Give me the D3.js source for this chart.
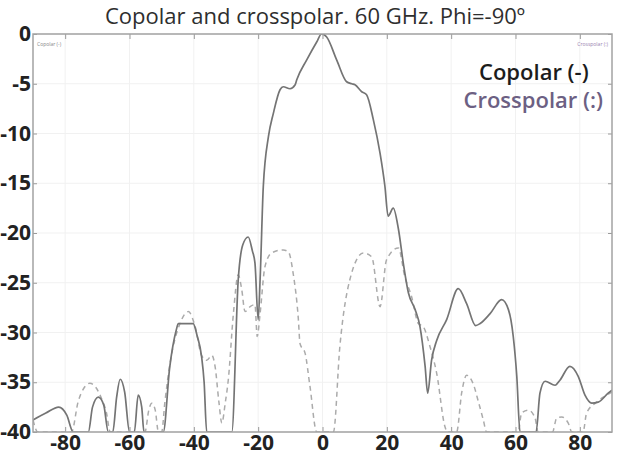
<!DOCTYPE html>
<html>
<head>
<meta charset="utf-8">
<script src="https://cdn.jsdelivr.net/npm/d3@7/dist/d3.min.js"></script>
<style>
  body { margin: 0; background: #fff; }
  text { font-family: "Open Sans", sans-serif; }
</style>
</head>
<body>
<svg id="chart" width="621" height="457"></svg>
<script>
// Copolar / crosspolar radiation pattern, 60 GHz, Phi = -90º

const titleText = 'Copolar and crosspolar. 60 GHz. Phi=-90º';
const xTicks = [-80, -60, -40, -20, 0, 20, 40, 60, 80];
const yTicks = [0, -5, -10, -15, -20, -25, -30, -35, -40];
const legendLabels = ['Copolar (-)', 'Crosspolar (:)'];

// Copolar (solid)
const copolarAngle = [
    -90, -86, -82, -79.5, -77.5,
    -72.8, -71.5, -69.7, -68, -66.6,
    -65.2, -64, -62.9, -61.5, -60,
    -58.5, -57.3, -56.2, -55.5,
    -49.5, -47.5, -45.5, -44.8, -40.2, -39, -37.6, -36.8, -36,
    -28.2, -26.2, -24.8, -23.1, -21.8, -21, -20, -19.4, -18.4, -16.8, -15.3, -13.2,
    -12.2, -10.1, -8.5, -8, -4.9, -1.8, -0.3, 1.3, 4.4, 7.5, 9.1, 10.1, 12.2, 13.7,
    15.8, 17.9, 19.4, 20.4, 22, 23.6, 25.1, 26.7, 28.8, 30.3, 31.9, 32.7, 33.9, 35.5,
    38.6, 42.2, 44.8, 47.6, 49, 52.1, 55.7, 57.8, 59.3, 60.4, 61.4,
    66.4, 67.6, 69.2, 72.3, 73.8, 76.9, 79.5, 81.6, 83.7, 85.7, 88.8, 90
];
const copolarDb = [
    -38.8, -38.1, -37.5, -38.3, -40,
    -40, -37.5, -36.5, -37.3, -40,
    -40, -36.5, -34.7, -36, -40,
    -40, -36.3, -37.5, -40,
    -40, -33.5, -29.8, -29.1, -29.1, -30.3, -32.4, -35, -40,
    -40, -24.7, -21.2, -20.4, -21.8, -23, -28.7, -24.7, -15.3, -10.3, -8, -5.6,
    -5.3, -5.5, -5.1, -4.6, -2.6, -0.8, 0, -0.3, -2.6, -4.8, -5, -5.1, -5.8, -6.1,
    -8.6, -12, -15.3, -18.3, -17.5, -19.6, -23, -26, -27.7, -29.4, -33.4, -36.1, -32.8, -30.8,
    -28.7, -25.6, -27.1, -29.3, -29.1, -28.1, -26.7, -27.7, -30.4, -34.4, -40,
    -40, -36.1, -34.9, -35.3, -34.8, -33.4, -34.4, -36.3, -37.1, -37, -36.1, -35.8
];

// Crosspolar (dashed)
const crossAngle = [
    -90, -88.5, -78, -76, -74, -72.3, -70.5, -68.5, -67.2, -66,
    -55.2, -54, -53.1, -52, -51,
    -50, -49, -47.4, -44.3, -41.7, -39.6, -37.6, -36, -34.4, -33.4, -32.2, -31.3,
    -30.2, -29.3, -27.7, -26.2, -25.1, -24.1, -22.5, -21, -20.3, -19.4, -17.9, -15.8,
    -12.2, -10.6, -9.1, -7.5, -7, -5.4, -3.9, -1.8,
    3.4, 5.4, 8.5, 12.7, 15.3, 17.9, 19.9, 23.6, 25.6, 27.7, 29.8, 31.3, 33.4, 35.5, 38.1, 38.8,
    41.7, 43.3, 44.8, 46.9, 48.5, 50, 51,
    60.8, 61.9, 64, 66.1, 67,
    71.5, 72.8, 74.4, 76.4, 77.5,
    81, 82.1, 85.2, 87.3, 90
];
const crossDb = [
    -38.8, -40, -40, -37, -35.5, -35.1, -35.5, -36.8, -38, -40,
    -40, -37.8, -37.1, -37.8, -40,
    -40, -37, -33.1, -29.1, -27.9, -29.4, -32.3, -32.8, -32.3, -33.4, -37, -39.1,
    -37, -34.8, -28.1, -24.2, -25.7, -27.9, -27.4, -27.2, -30.4, -28.1, -23.4, -22,
    -21.7, -21.9, -24.1, -28.7, -31.1, -32.1, -35.4, -40,
    -40, -31.4, -24.7, -22, -22.4, -27.4, -22.7, -21.5, -24.4, -26.4, -29.1, -29.4, -31.4, -34.1, -39.5, -40,
    -40, -36, -34.3, -35.2, -37, -38.8, -40,
    -40, -38.1, -37.8, -38.6, -40,
    -40, -38.6, -38.5, -39.1, -40,
    -40, -38.1, -37, -36.5, -36
];

const margin = { top: 34, right: 9, bottom: 25, left: 33 };
const width = 621 - margin.left - margin.right;
const height = 457 - margin.top - margin.bottom;

const svg = d3.select('#chart');

const x = d3.scaleLinear().domain([-90, 90]).range([0, width]);
const y = d3.scaleLinear().domain([-40, 0]).range([height, 0]);

// Title
svg.append('text')
    .attr('x', 315)
    .attr('y', 24)
    .attr('text-anchor', 'middle')
    .attr('font-size', '22px')
    .attr('fill', '#2e2e2e')
    .text(titleText);

const g = svg.append('g')
    .attr('transform', `translate(${margin.left},${margin.top})`);

// Faint grid
g.append('g').selectAll('line')
    .data(xTicks)
    .enter().append('line')
    .attr('x1', d => x(d)).attr('x2', d => x(d))
    .attr('y1', 0).attr('y2', height)
    .attr('stroke', '#f1f1f1');
g.append('g').selectAll('line')
    .data(yTicks)
    .enter().append('line')
    .attr('y1', d => y(d)).attr('y2', d => y(d))
    .attr('x1', 0).attr('x2', width)
    .attr('stroke', '#f1f1f1');

// Curves
g.append('clipPath').attr('id', 'plot-clip')
    .append('rect').attr('width', width).attr('height', height);

const line = d3.line()
    .x(d => x(d[0]))
    .y(d => y(d[1]))
    .curve(d3.curveMonotoneX);

const crossData = crossAngle.map((a, i) => [a, crossDb[i]]);
const copolarData = copolarAngle.map((a, i) => [a, copolarDb[i]]);

g.append('path')
    .datum(crossData)
    .attr('clip-path', 'url(#plot-clip)')
    .attr('d', line)
    .attr('fill', 'none')
    .attr('stroke', '#ababab')
    .attr('stroke-width', 1.5)
    .attr('stroke-dasharray', '5,4');

g.append('path')
    .datum(copolarData)
    .attr('clip-path', 'url(#plot-clip)')
    .attr('d', line)
    .attr('fill', 'none')
    .attr('stroke', '#747474')
    .attr('stroke-width', 1.7);

// Axes: ticks pointing inside, on all four sides
const axisStyle = sel => {
    sel.select('.domain').remove();
    sel.selectAll('.tick line').attr('stroke', '#9a9a9a');
};
const labelStyle = size => sel => sel.selectAll('text')
    .attr('font-size', size)
    .attr('font-weight', 700)
    .attr('fill', '#222')
    .attr('font-family', 'Lato, sans-serif');
const plainFormat = d => String(d); // keeps the short hyphen of the original

g.append('g')
    .attr('transform', `translate(0,${height})`)
    .call(d3.axisBottom(x).tickValues(xTicks).tickFormat(plainFormat).tickSize(-5).tickPadding(3))
    .call(axisStyle)
    .call(labelStyle('21px'));

g.append('g')
    .call(d3.axisLeft(y).tickValues(yTicks).tickFormat(plainFormat).tickSize(-4).tickPadding(2))
    .call(axisStyle)
    .call(labelStyle('21px'));

g.append('g')
    .call(d3.axisTop(x).tickValues(xTicks).tickSize(-5).tickFormat(''))
    .call(axisStyle);

g.append('g')
    .attr('transform', `translate(${width},0)`)
    .call(d3.axisRight(y).tickValues(yTicks).tickSize(-4).tickFormat(''))
    .call(axisStyle);

// Frame
g.append('rect')
    .attr('width', width)
    .attr('height', height)
    .attr('fill', 'none')
    .attr('stroke', '#a3a3a3')
    .attr('stroke-width', 1.5);

// Tiny corner labels
g.append('text')
    .attr('x', 4).attr('y', 12)
    .attr('font-size', '5px')
    .attr('fill', '#888')
    .text(legendLabels[0]);
g.append('text')
    .attr('x', width - 4).attr('y', 12)
    .attr('text-anchor', 'end')
    .attr('font-size', '5px')
    .attr('fill', '#9a7fb0')
    .text(legendLabels[1]);

// Legend
g.append('text')
    .attr('x', 446)
    .attr('y', 46)
    .attr('font-size', '22px')
    .attr('font-weight', 600)
    .attr('fill', '#1c1c1c')
    .text(legendLabels[0]);
g.append('text')
    .attr('x', 570)
    .attr('y', 74)
    .attr('text-anchor', 'end')
    .attr('font-size', '22px')
    .attr('font-weight', 600)
    .attr('fill', '#6c6083')
    .text(legendLabels[1]);
</script>
</body>
</html>
